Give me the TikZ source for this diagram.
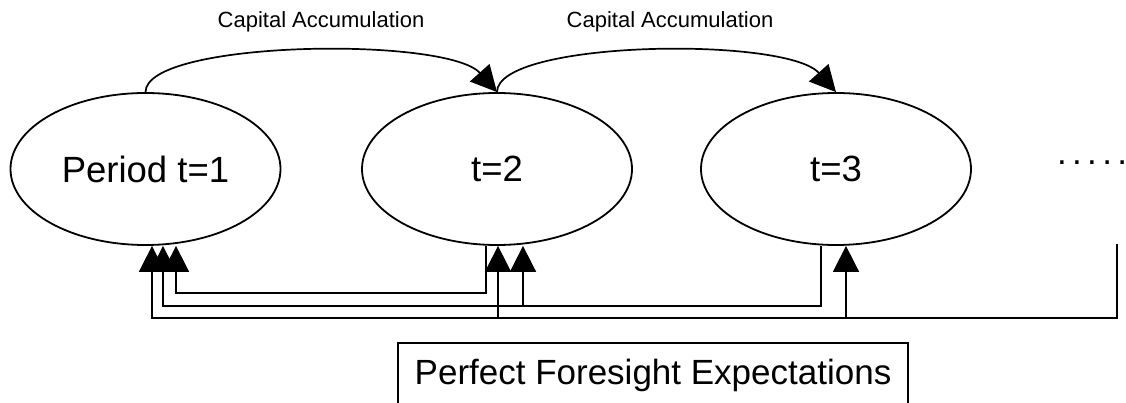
\documentclass[tikz,border=0pt]{standalone}
\usepackage{fontspec}
\setmainfont{Liberation Sans}
\usetikzlibrary{arrows.meta,shapes.geometric,calc}
\begin{document}
\begin{tikzpicture}[x=1pt,y=-1pt,
  conn/.style={line width=1.7pt},
  tip/.style={-{Triangle[length=26pt,width=26pt]}},
  period/.style={draw,ellipse,line width=1.8pt,minimum width=270pt,minimum height=152pt,inner sep=0pt,font=\fontsize{36.5}{42}\selectfont},
  lbl/.style={inner sep=0pt,font=\fontsize{22}{26}\selectfont},
  pbox/.style={draw,line width=1.8pt,minimum width=510pt,minimum height=64pt,inner sep=0pt,font=\fontsize{35}{42}\selectfont}]
\useasboundingbox (0,0) rectangle (1126,403);
% ellipses
\node[period] (e1) at (145.5,169) {Period t=1};
\node[period] (e2) at (497,169) {t=2};
\node[period] (e3) at (836,169) {t=3};
\node[anchor=base west,inner sep=0pt,font=\fontsize{35}{42}\selectfont] (dots) at (1057,165) {.\kern5.3pt.\kern5.3pt.\kern5.3pt.\kern5.3pt.};
\node[pbox] (pfe) at (653,375) {Perfect Foresight Expectations};
% labels
\node[lbl] (l1) at (321,22) {Capital Accumulation};
\node[lbl] (l2) at (670,22) {Capital Accumulation};
% top arcs
\draw[conn,tip] (e1.north) .. controls ($(e1.north)+(0,-52)$) and ($(e2.north)+(-50,-56)$) .. (e2.north);
\draw[conn,tip] (e2.north) .. controls ($(e2.north)+(0,-52)$) and ($(e3.north)+(-50,-56)$) .. (e3.north);
% ports
\coordinate (e1inA) at ($(e1.south)+(6.5,0)$);
\coordinate (e1inB) at ($(e1.south)+(17.5,0)$);
\coordinate (e1inC) at ($(e1.south)+(30.5,0)$);
\coordinate (e2out) at ($(e2.south)+(-11,0)$);
\coordinate (e2inA) at ($(e2.south)+(1,0)$);
\coordinate (e2inB) at ($(e2.south)+(26,0)$);
\coordinate (e3out) at ($(e3.south)+(-15,0)$);
\coordinate (e3inA) at ($(e3.south)+(10,0)$);
\coordinate (dsrc) at (1117,244);
\coordinate (bA) at ($(dsrc)+(0,74)$);
\coordinate (bB) at ($(e3out)+(0,60)$);
\coordinate (bC) at ($(e2out)+(0,47)$);
% line A: from the open end
\draw[conn,tip] (dsrc) -- (bA) -| (e1inA);
\draw[conn,tip] (e2inA |- bA) -- (e2inA);
\draw[conn,tip] (e3inA |- bA) -- (e3inA);
% line B: from t=3
\draw[conn,tip] (e3out) -- (bB) -| (e1inB);
\draw[conn,tip] (e2inB |- bB) -- (e2inB);
% line C: from t=2
\draw[conn,tip] (e2out) -- (bC) -| (e1inC);
\end{tikzpicture}
\end{document}
